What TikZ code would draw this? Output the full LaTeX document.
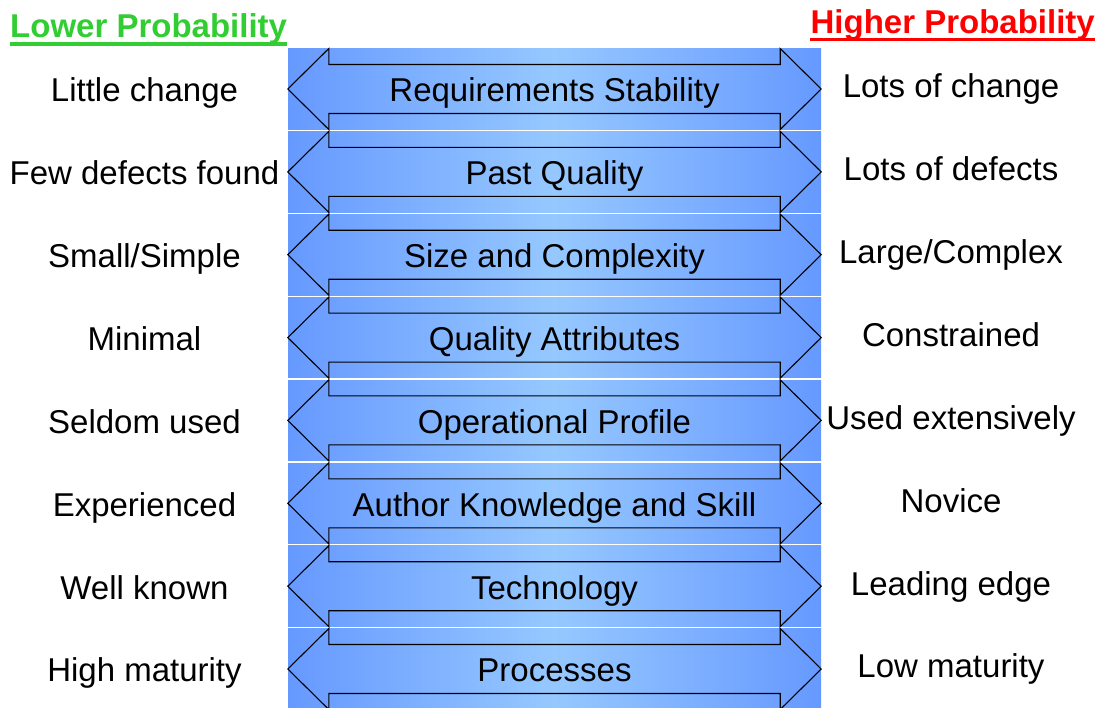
\documentclass[tikz,border=0pt]{standalone}
\usepackage{fontspec}
\setmainfont{Liberation Sans}
\definecolor{bandedge}{RGB}{102,153,255}
\definecolor{bandmid}{RGB}{150,200,255}
\definecolor{lowgreen}{RGB}{50,205,50}

\begin{document}
\begin{tikzpicture}[x=1pt,y=-1pt,
  every node/.style={font=\fontsize{33}{40}\selectfont},
  band/.style={rectangle, inner sep=0pt, minimum width=533pt, minimum height=80.6pt,
    left color=bandedge, right color=bandedge, middle color=bandmid},
  sidelabel/.style={anchor=base, inner sep=0pt},
  outline/.style={draw=black, line width=1.1pt, line join=miter}]
\useasboundingbox (0,0) rectangle (1099,707);

% headings
\node[anchor=base west, inner sep=0pt, text=lowgreen, font=\fontsize{33}{40}\selectfont\bfseries] (lower) at (10,37) {Lower Probability};
\node[anchor=base east, inner sep=0pt, text=red, font=\fontsize{33}{40}\selectfont\bfseries] (higher) at (1095,33) {Higher Probability};
\draw[lowgreen, line width=3.5pt] ([yshift=-7pt]lower.base west) -- ([yshift=-7pt]lower.base east);
\draw[red, line width=3.5pt] ([yshift=-6.5pt]higher.base west) -- ([yshift=-6.5pt]higher.base east);

% factor bands
\node[band] (b1) at (554.5,89) {};
\node[band] (b2) at (554.5,171.9) {};
\node[band] (b3) at (554.5,254.7) {};
\node[band] (b4) at (554.5,337.6) {};
\node[band] (b5) at (554.5,420.4) {};
\node[band] (b6) at (554.5,503.3) {};
\node[band] (b7) at (554.5,586.2) {};
\node[band] (b8) at (554.5,669) {};

\foreach \b in {b1,b2,b3,b4,b5,b6,b7,b8}
  \draw[outline] ([xshift=41pt]\b.north west) -- (\b.west) -- ([xshift=41pt]\b.south west)
    -- ([xshift=41pt,yshift=16pt]\b.south west) -- ([xshift=-41pt,yshift=16pt]\b.south east)
    -- ([xshift=-41pt]\b.south east) -- (\b.east) -- ([xshift=-41pt]\b.north east)
    -- ([xshift=-41pt,yshift=-16pt]\b.north east) -- ([xshift=41pt,yshift=-16pt]\b.north west)
    -- cycle;

% factor names
\node[sidelabel] (f1) at (554.5,101.8) {Requirements Stability};
\node[sidelabel] (f2) at (554.5,184.7) {Past Quality};
\node[sidelabel] (f3) at (554.5,267.5) {Size and Complexity};
\node[sidelabel] (f4) at (554.5,350.4) {Quality Attributes};
\node[sidelabel] (f5) at (554.5,433.2) {Operational Profile};
\node[sidelabel] (f6) at (554.5,516.1) {Author Knowledge and Skill};
\node[sidelabel] (f7) at (554.5,599) {Technology};
\node[sidelabel] (f8) at (554.5,681.8) {Processes};

% lower probability side
\node[sidelabel] (l1) at (144.5,101.8) {Little change};
\node[sidelabel] (l2) at (144.5,184.7) {Few defects found};
\node[sidelabel] (l3) at (144.5,267.5) {Small/Simple};
\node[sidelabel] (l4) at (144.5,350.4) {Minimal};
\node[sidelabel] (l5) at (144.5,433.2) {Seldom used};
\node[sidelabel] (l6) at (144.5,516.1) {Experienced};
\node[sidelabel] (l7) at (144.5,599) {Well known};
\node[sidelabel] (l8) at (144.5,681.8) {High maturity};

% higher probability side
\node[sidelabel] (h1) at (951,97.8) {Lots of change};
\node[sidelabel] (h2) at (951,180.7) {Lots of defects};
\node[sidelabel] (h3) at (951,263.5) {Large/Complex};
\node[sidelabel] (h4) at (951,346.4) {Constrained};
\node[sidelabel] (h5) at (951,429.2) {Used extensively};
\node[sidelabel] (h6) at (951,512.1) {Novice};
\node[sidelabel] (h7) at (951,595) {Leading edge};
\node[sidelabel] (h8) at (951,677.8) {Low maturity};

\end{tikzpicture}
\end{document}
